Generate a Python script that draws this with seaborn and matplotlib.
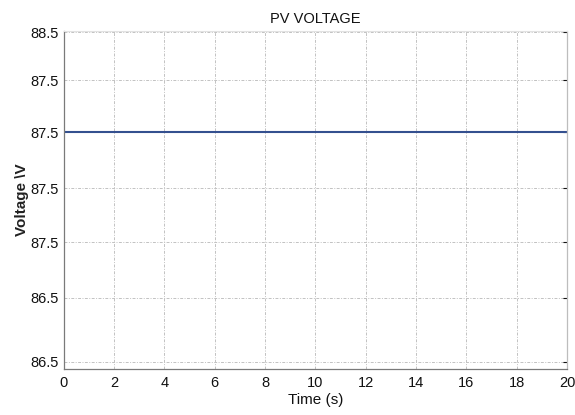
import numpy as np
import pandas as pd
import seaborn as sns
import matplotlib
matplotlib.use("Agg")
import matplotlib.pyplot as plt

# PV output voltage over the simulation run
time_s = [0, 2, 4, 6, 8, 10, 12, 14, 16, 18, 20]
voltage_v = [87.5, 87.5, 87.5, 87.5, 87.5, 87.5, 87.5, 87.5, 87.5, 87.5, 87.5]

# y-axis ticks and their printed labels
y_tick_pos = [88.5, 88.02, 87.5, 86.94, 86.4, 85.84, 85.2]
y_tick_labels = ["88.5", "87.5", "87.5", "87.5", "87.5", "86.5", "86.5"]
x_ticks = [0, 2, 4, 6, 8, 10, 12, 14, 16, 18, 20]

sns.set_theme(style="white")
plt.rcParams["font.family"] = ["Liberation Sans", "DejaVu Sans"]

df = pd.DataFrame({"Time": time_s, "Voltage": voltage_v})

fig = plt.figure(figsize=(5.75, 4.15), dpi=100)
ax = fig.add_axes([0.111, 0.111, 0.875, 0.814])

sns.lineplot(data=df, x="Time", y="Voltage", ax=ax, color="#34508f", linewidth=1.5)

ax.set_xlim(0, 20)
ax.set_ylim(85.13, 88.51)
ax.set_xticks(x_ticks)
ax.set_xticklabels([str(t) for t in x_ticks])
ax.set_yticks(y_tick_pos)
ax.set_yticklabels(y_tick_labels)
ax.tick_params(axis="x", labelsize=10.5, colors="#111111", length=0, pad=5)
ax.tick_params(axis="y", labelsize=10.5, colors="#111111", length=3,
               direction="in", right=True, width=0.8, pad=4)
for t in ax.yaxis.get_ticklines():
    t.set_color("#777777")

ax.grid(True, linestyle=(0, (3, 1.5, 1, 1.5)), color="#c2c2c2", linewidth=0.7)

for side in ["left", "bottom"]:
    ax.spines[side].set_color("#7a7a7a")
    ax.spines[side].set_linewidth(0.9)
ax.spines["right"].set_color("#bdbdbd")
ax.spines["right"].set_linewidth(0.9)
ax.spines["top"].set_color("#e2e2e2")
ax.spines["top"].set_linewidth(0.8)

ax.set_title("PV VOLTAGE", fontsize=10.5, pad=6, color="#111111")
ax.set_xlabel("Time (s)", fontsize=11, labelpad=2, color="#111111")
ax.set_ylabel("Voltage \\V", fontsize=11, fontweight="bold", labelpad=1, color="#222222")

fig.savefig("out.png", dpi=100, facecolor="white")
